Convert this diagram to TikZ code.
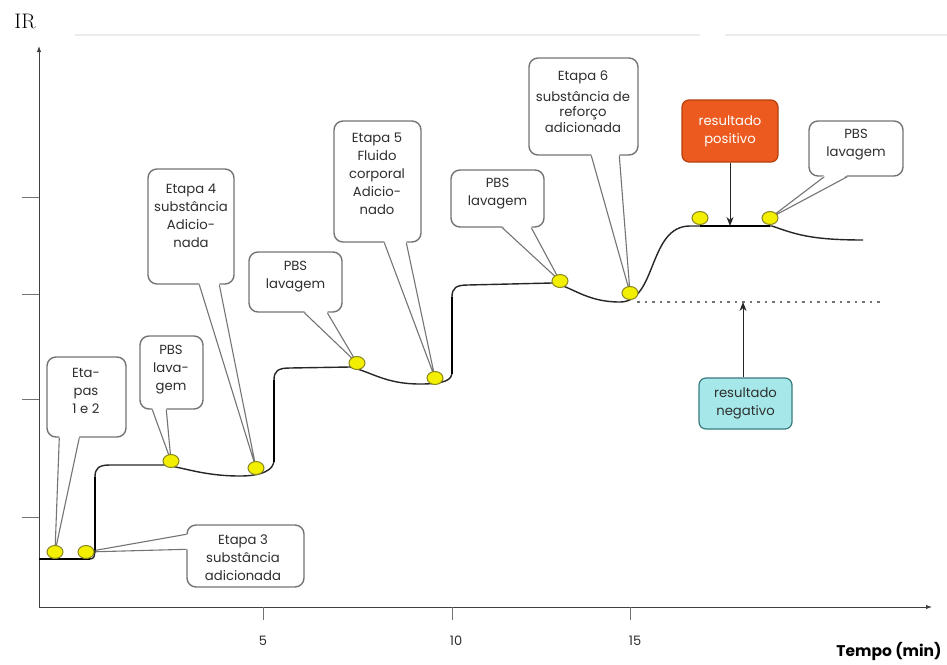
\documentclass[tikz,border=0pt]{standalone}
\usepackage{fontspec}
\usetikzlibrary{arrows.meta,shapes.geometric,calc}
\newfontfamily\gothic{Poppins}

\definecolor{calloutgray}{HTML}{747474}
\definecolor{dotyellow}{HTML}{F2EF00}
\definecolor{dotrim}{HTML}{8A8620}
\definecolor{posfill}{HTML}{EC5A1F}
\definecolor{posrim}{HTML}{B5410E}
\definecolor{negfill}{HTML}{A6E8EA}
\definecolor{negrim}{HTML}{3A7A7C}
\definecolor{textgray}{HTML}{2E2E2E}

% speech-bubble pointer: base A, base B, tip, small inward nudge for the white fill
\newcommand\pointerwedge[4]{%
  \fill[white] ($(#1)+#4$) -- (#3) -- ($(#2)+#4$) -- cycle;
  \draw[pointer] (#1) -- (#3) -- (#2);}

\begin{document}
\begin{tikzpicture}[x=1pt,y=-1pt,
  callout/.style={draw=calloutgray, line width=1.4pt, rounded corners=9pt, fill=white, inner sep=0pt},
  ctext/.style={font=\gothic\fontsize{13.2}{18}\selectfont, text=textgray, align=center, inner sep=0pt},
  pointer/.style={draw=calloutgray, line width=1.1pt, line join=miter},
  dot/.style={ellipse, draw=dotrim, fill=dotyellow, line width=1pt, minimum width=16pt, minimum height=13pt, inner sep=0pt},
  trace/.style={line width=1.4pt, draw=black!85, line join=round},
  riser/.style={line width=2.2pt, draw=black},
  axis/.style={line width=1pt, draw=black!75, -{Latex[length=6pt,width=4.5pt]}},
  tickmark/.style={line width=1pt, draw=black!55},
  ticklabel/.style={font=\gothic\fontsize{13}{13}\selectfont, text=textgray, inner sep=0pt},
  resbox/.style={rounded corners=7pt, line width=1.2pt, inner sep=0pt, align=center,
                 font=\gothic\fontsize{13.2}{18}\selectfont},
  resarrow/.style={line width=1pt, draw=black!85, -{Stealth[length=9pt,width=7pt]}}]

\useasboundingbox (0,0) rectangle (947,664);

% faint rule along the top
\draw[draw=black!8, line width=1.5pt] (75,35) -- (700,35) (725,35) -- (947,35);

% axes
\node[font=\fontsize{21}{21}\selectfont, inner sep=0pt] (ir) at (25,21) {IR};
\coordinate (origin) at (39,607);
\coordinate (ytop) at (39,46);
\coordinate (xend) at (932,607);
\draw[axis] (origin) -- (ytop);
\draw[axis] (origin) -- (xend);
\foreach \yy in {197,294,399,517} \draw[tickmark] (22,\yy) -- (39,\yy);
\foreach \xx in {263,452,630} \draw[tickmark] (\xx,607) -- (\xx,620);
\node[ticklabel] (l5) at (263,641) {5};
\node[ticklabel] (l10) at (456,641) {10};
\node[ticklabel] (l15) at (635,641) {15};
\node[font=\gothic\bfseries\fontsize{15.5}{15.5}\selectfont, inner sep=0pt] (tempo) at (889,651) {Tempo (min)};

% sampling points on the trace
\coordinate (p1) at (55,552);
\coordinate (p2) at (86,552);
\coordinate (p3) at (171,461);
\coordinate (p4) at (256,468);
\coordinate (p5) at (357,363);
\coordinate (p6) at (435,378);
\coordinate (p7) at (560,281);
\coordinate (p8) at (630,293);
\coordinate (p9) at (700,218);
\coordinate (p10) at (770,218);

% callout boxes
\node[callout, minimum width=79pt, minimum height=80pt] (c12) at (86.5,397) {};
\node[callout, minimum width=63pt, minimum height=73pt] (cpbs1) at (171.5,372.5) {};
\node[callout, minimum width=117pt, minimum height=62pt] (c3) at (245.5,556) {};
\node[callout, minimum width=86pt, minimum height=115pt] (c4) at (191,226.5) {};
\node[callout, minimum width=93pt, minimum height=60pt] (cpbs2) at (295.5,282) {};
\node[callout, minimum width=87pt, minimum height=121pt] (c5) at (377.5,181.5) {};
\node[callout, minimum width=93pt, minimum height=57pt] (cpbs3) at (497.5,198.5) {};
\node[callout, minimum width=109pt, minimum height=97pt] (c6) at (583.5,106.5) {};
\node[callout, minimum width=94pt, minimum height=55pt] (cpbs4) at (856,148.5) {};

% pointer bases
\path ($(c12.south west)+(13,0)$) coordinate (w1a) ($(c12.south west)+(33,0)$) coordinate (w1b)
      ($(cpbs1.south west)+(13,0)$) coordinate (w2a) ($(cpbs1.south west)+(27,0)$) coordinate (w2b)
      ($(c3.north west)+(0,10)$) coordinate (w3a) ($(c3.north west)+(0,25)$) coordinate (w3b)
      ($(c4.south west)+(52,0)$) coordinate (w4a) ($(c4.south west)+(72,0)$) coordinate (w4b)
      ($(cpbs2.south west)+(56,0)$) coordinate (w5a) ($(cpbs2.south west)+(79,0)$) coordinate (w5b)
      ($(c5.south west)+(51,0)$) coordinate (w6a) ($(c5.south west)+(73,0)$) coordinate (w6b)
      ($(cpbs3.south west)+(52,0)$) coordinate (w7a) ($(cpbs3.south west)+(81,0)$) coordinate (w7b)
      ($(c6.south west)+(63,0)$) coordinate (w8a) ($(c6.south west)+(91,0)$) coordinate (w8b)
      ($(cpbs4.south west)+(16,0)$) coordinate (w9a) ($(cpbs4.south west)+(39,0)$) coordinate (w9b);

\pointerwedge{w1a}{w1b}{p1}{(0,-1.6)}
\pointerwedge{w2a}{w2b}{p3}{(0,-1.6)}
\pointerwedge{w3a}{w3b}{p2}{(1.6,0)}
\pointerwedge{w4a}{w4b}{p4}{(0,-1.6)}
\pointerwedge{w5a}{w5b}{p5}{(0,-1.6)}
\pointerwedge{w6a}{w6b}{p6}{(0,-1.6)}
\pointerwedge{w7a}{w7b}{p7}{(0,-1.6)}
\pointerwedge{w8a}{w8b}{p8}{(0,-1.6)}
\pointerwedge{w9a}{w9b}{p10}{(0,-1.6)}

% callout texts
\node[ctext] (t12) at (86,391) {Eta-\\pas\\1 e 2};
\node[ctext] (tpbs1) at (171,370) {PBS\\lava-\\gem};
\node[ctext] (t3) at (243,558) {Etapa 3\\substância\\adicionada};
\node[ctext] (t4) at (191,216) {Etapa 4\\substância\\Adicio-\\nada};
\node[ctext] (tpbs2) at (295.5,277) {PBS\\lavagem};
\node[ctext] (t5) at (377,173.5) {Etapa 5\\Fluido\\corporal\\Adicio-\\nado};
\node[ctext] (tpbs3) at (497.5,193.5) {PBS\\lavagem};
\node[ctext] (t6) at (583,102) {Etapa 6\\[3pt]substância de\\[-3pt]reforço\\[-2pt]adicionada};
\node[ctext] (tpbs4) at (856,145) {PBS\\lavagem};

% result boxes
\node[resbox, fill=posfill, draw=posrim, text=white, minimum width=96pt, minimum height=62pt] (pos) at (730,131) {resultado\\positivo};
\node[resbox, fill=negfill, draw=negrim, text=textgray, minimum width=93pt, minimum height=51pt] (neg) at (745.5,403.5) {resultado\\negativo};

% baseline reference for a negative result
\draw[draw=black!55, line width=1.3pt, dash pattern=on 2.5pt off 5pt] (637,302) -- (880,302);

% binding trace
\draw[trace]
 (39,559) -- (90,559)
 .. controls (94,559) and (95,556) .. (95,548)
 -- (95,477)
 .. controls (95,468) and (99,465) .. (110,465)
 -- (165,465)
 .. controls (185,468) and (205,476) .. (240,476)
 .. controls (262,476) and (274,470) .. (274,460)
 -- (274,380)
 .. controls (274,371) and (278,368) .. (290,368)
 -- (350,367)
 .. controls (372,372) and (385,384) .. (420,384)
 .. controls (445,384) and (452,380) .. (452,372)
 -- (452,297)
 .. controls (452,288) and (456,285) .. (468,285)
 -- (552,283)
 .. controls (572,286) and (585,302) .. (620,302)
 .. controls (657,302) and (648,226) .. (690,226)
 -- (772,226)
 .. controls (795,234) and (810,240) .. (863,240);
\draw[riser] (39,559) -- (90,559);
\draw[riser] (95,550) -- (95,477);
\draw[riser] (274,462) -- (274,380);
\draw[riser] (452,374) -- (452,297);
\draw[riser] (700,226) -- (770,226);

\coordinate (posmark) at (730,226);
\coordinate (negmark) at (743,302);
\draw[resarrow] (pos.south) -- (posmark);
\draw[resarrow] ([xshift=-2.5pt]neg.north) -- (negmark);

% sampling points
\foreach \k in {1,...,10} \node[dot] (d\k) at (p\k) {};

\end{tikzpicture}
\end{document}
